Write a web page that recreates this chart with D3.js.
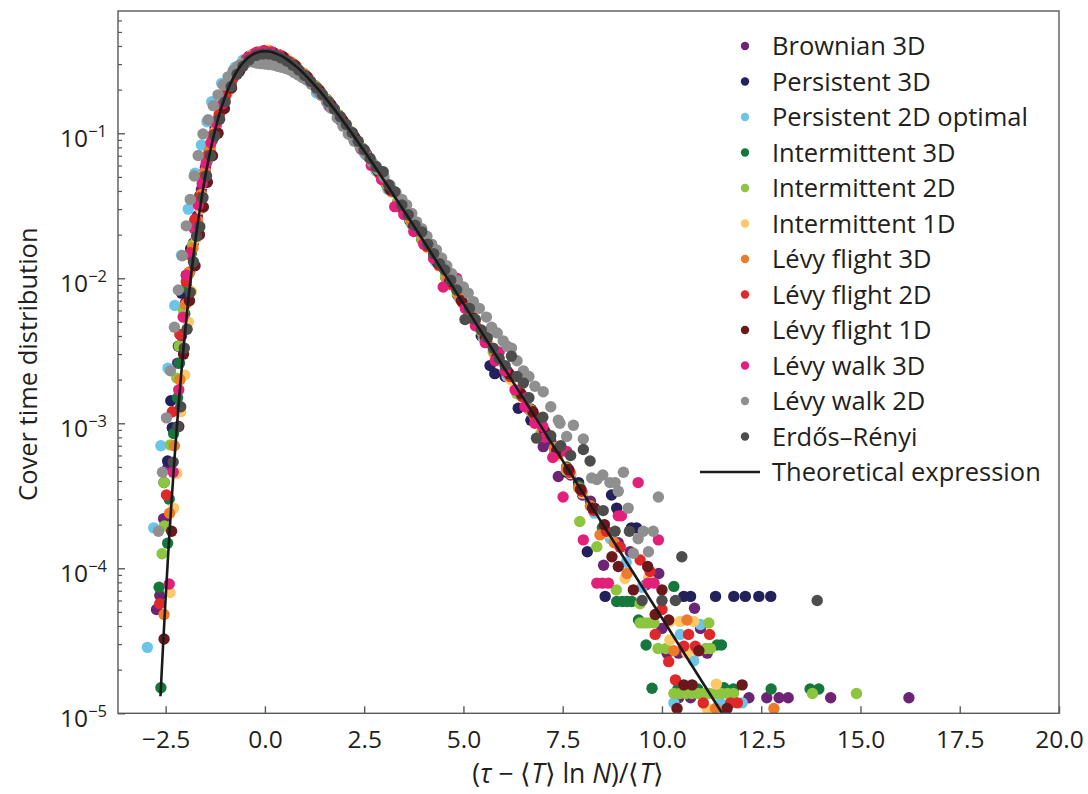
<!DOCTYPE html>
<html><head><meta charset="utf-8">
<script src="https://cdn.jsdelivr.net/npm/d3@7"></script>
<style>
body{margin:0;background:#fff;}
svg text{font-family:"Open Sans",sans-serif;fill:#231f20;}
</style></head><body>
<svg id="chart" width="1088" height="794"></svg>
<script>
// ---------------- DATA ----------------
const seriesNames = ["Brownian 3D","Persistent 3D","Persistent 2D optimal","Intermittent 3D","Intermittent 2D","Intermittent 1D","Lévy flight 3D","Lévy flight 2D","Lévy flight 1D","Lévy walk 3D","Lévy walk 2D","Erdős–Rényi"];
const lineName = "Theoretical expression";
const xTickValues = [-2.5,0,2.5,5,7.5,10,12.5,15,17.5,20];
const yTickExponents = [-5,-4,-3,-2,-1];
const xLabelParts = [["(",false],["τ",true],[" − ⟨",false],["T",true],["⟩ ln ",false],["N",true],[")/⟨",false],["T",true],["⟩",false]];
const yLabel = "Cover time distribution";

const brownian3D = [[-2.73,5.2e-5],[-2.645,6.5e-5],[-2.55,2.2e-4],[-2.45,4.9e-4],[-2.33,9.3e-4],[-2.2,2.6e-3],[-2.1,4.0e-3],[-2.0,6.8e-3],[-1.9,1.1e-2],[-1.8,1.75e-2],[-1.7,2.7e-2],[-1.6,4.1e-2],[-1.5,5.8e-2],[-1.38,8.2e-2],[-1.25,0.11],[-1.1,0.155],[-0.95,0.2],[-0.8,0.245],[-0.6,0.3],[-0.4,0.34],[-0.2,0.362],[0.0,0.372],[0.25,0.355],[0.5,0.33],[0.75,0.293],[1.0,0.252],[1.3,0.205],[1.6,0.163],[1.9,0.128],[2.2,0.098],[2.5,0.075],[2.8,0.057],[3.1,0.043],[3.4,0.032],[3.7,0.0245],[4.0,0.018],[4.3,0.0133],[4.6,0.0099],[4.9,0.0074],[5.2,0.0055],[5.5,0.0041],[5.8,0.003],[6.1,0.0022],[6.4,0.0016],[6.7,0.00125],[7.01,6.9e-4],[7.2,7.5e-4],[7.39,4.3e-4],[7.7,4.4e-4],[8.0,3.2e-4],[8.2,2.9e-4],[8.53,1.05e-4],[8.9,1.5e-4],[9.2,1.3e-4],[9.6,7.7e-5],[9.92,9.2e-5],[10.0,3.85e-5],[10.82,5.3e-5],[10.97,3.85e-5],[10.13,2.6e-5],[10.42,2.6e-5],[11.14,2.6e-5],[10.42,1.28e-5],[10.72,1.28e-5],[12.19,1.28e-5],[12.64,1.28e-5],[12.95,1.28e-5],[13.18,1.28e-5],[14.25,1.28e-5],[16.22,1.28e-5]];
const persistent3D = [[-2.54,3.9e-4],[-2.45,5.5e-4],[-2.37,1.43e-3],[-2.33,9.3e-4],[-2.18,3.4e-3],[-2.1,7.9e-3],[-1.98,1.05e-2],[-1.87,1.6e-2],[-1.76,2.5e-2],[-1.64,3.7e-2],[-1.52,5.4e-2],[-1.4,7.6e-2],[-1.25,0.106],[-1.1,0.148],[-0.9,0.205],[-0.7,0.265],[-0.5,0.315],[-0.3,0.35],[-0.1,0.366],[0.1,0.364],[0.35,0.348],[0.65,0.31],[0.95,0.26],[1.25,0.214],[1.55,0.172],[1.85,0.134],[2.15,0.103],[2.45,0.079],[2.75,0.06],[3.05,0.045],[3.35,0.0335],[3.65,0.025],[3.95,0.0186],[4.25,0.0139],[4.55,0.0102],[4.85,0.0077],[5.15,0.0056],[5.45,0.004],[5.67,2.5e-3],[5.79,2.2e-3],[6.05,2.1e-3],[6.38,1.27e-3],[6.7,1.05e-3],[7.0,8.4e-4],[7.3,6.2e-4],[7.6,4.6e-4],[7.9,3.9e-4],[8.12,1.3e-4],[8.3,2.6e-4],[8.73,3.2e-4],[8.86,2.6e-4],[9.23,1.9e-4],[9.36,1.9e-4],[8.57,6.4e-5],[10.55,6.4e-5],[10.72,6.4e-5],[11.35,6.4e-5],[11.81,6.4e-5],[12.1,6.4e-5],[12.44,6.4e-5],[12.74,6.4e-5]];
const persistent2DOptimal = [[-2.96,2.85e-5],[-2.8,1.9e-4],[-2.62,7.0e-4],[-2.44,2.4e-3],[-2.27,6.5e-3],[-2.1,1.44e-2],[-1.93,3.0e-2],[-1.76,5.3e-2],[-1.6,8.3e-2],[-1.46,0.12],[-1.34,0.165],[-1.09,0.221],[-0.93,0.245],[-0.75,0.285],[-0.55,0.32],[-0.35,0.345],[-0.15,0.36],[0.05,0.365],[0.3,0.345],[0.6,0.305],[0.9,0.255],[1.3,0.19],[1.6,0.155],[1.9,0.122],[2.2,0.095],[2.5,0.073],[2.8,0.055],[3.1,0.041],[3.4,0.031],[3.7,0.0235],[4.0,0.0175],[4.3,0.013],[4.6,0.0097],[4.9,0.0073],[5.2,0.0053],[5.5,0.0039],[5.8,0.0029],[6.1,0.0021],[6.4,0.0016],[6.7,0.0012],[7.0,8.6e-4],[7.3,6.4e-4],[7.6,4.8e-4],[7.95,3.6e-4],[8.3,2.4e-4],[8.7,1.6e-4],[9.1,1.1e-4],[9.5,7.4e-5],[10.97,4.1e-5],[10.46,3.5e-5],[10.8,2.3e-5],[10.3,1.18e-5],[11.47,1.18e-5],[12.02,1.18e-5]];
const intermittent3D = [[-2.665,7.4e-5],[-2.62,1.5e-5],[-2.45,1.49e-4],[-2.41,3.0e-4],[-2.3,8.5e-4],[-2.2,1.5e-3],[-2.15,2.6e-3],[-2.02,5.7e-3],[-1.97,8.7e-3],[-1.85,1.5e-2],[-1.75,2.2e-2],[-1.65,3.3e-2],[-1.55,4.7e-2],[-1.45,6.5e-2],[-1.32,9.0e-2],[-1.18,0.125],[-1.02,0.172],[-0.85,0.222],[-0.65,0.28],[-0.45,0.325],[-0.25,0.355],[-0.05,0.367],[0.2,0.36],[0.45,0.336],[0.7,0.302],[1.0,0.254],[1.3,0.207],[1.6,0.165],[1.9,0.129],[2.2,0.099],[2.5,0.076],[2.8,0.0575],[3.1,0.043],[3.4,0.0325],[3.7,0.024],[4.0,0.018],[4.3,0.0135],[4.6,0.0101],[4.9,0.0075],[5.2,0.0056],[5.5,0.0041],[5.8,0.0031],[6.1,0.0023],[6.4,0.00168],[6.7,0.00125],[7.0,9.2e-4],[7.3,6.8e-4],[7.6,5.0e-4],[7.9,3.7e-4],[8.2,2.7e-4],[8.5,1.9e-4],[8.86,5.9e-5],[9.0,5.9e-5],[9.12,5.9e-5],[9.24,5.9e-5],[10.3,7.5e-5],[9.41,4.4e-5],[9.6,2.96e-5],[11.39,2.96e-5],[11.5,2.96e-5],[9.75,1.49e-5],[10.4,1.47e-5],[10.9,1.47e-5],[11.56,1.5e-5],[11.8,1.47e-5],[12.75,1.47e-5],[13.73,1.47e-5],[13.95,1.47e-5]];
const intermittent2D = [[-2.59,1.26e-4],[-2.53,1.96e-4],[-2.54,3.9e-4],[-2.38,7.1e-4],[-2.22,2.05e-3],[-2.16,3.4e-3],[-2.05,6.0e-3],[-1.93,1.05e-2],[-1.82,1.7e-2],[-1.72,2.5e-2],[-1.61,3.7e-2],[-1.5,5.3e-2],[-1.38,7.6e-2],[-1.22,0.113],[-1.05,0.162],[-0.88,0.213],[-0.68,0.272],[-0.48,0.322],[-0.28,0.353],[-0.08,0.366],[0.15,0.363],[0.4,0.342],[0.65,0.31],[0.95,0.262],[1.25,0.214],[1.55,0.171],[1.85,0.134],[2.15,0.103],[2.45,0.079],[2.75,0.0595],[3.05,0.0452],[3.35,0.034],[3.65,0.0254],[3.95,0.0188],[4.25,0.014],[4.55,0.0103],[4.85,0.0078],[5.15,0.0057],[5.45,0.0043],[5.75,0.0031],[6.05,0.0023],[6.35,0.0016],[6.65,0.00125],[6.95,8.5e-4],[7.3,6.8e-4],[7.6,4.7e-4],[7.93,2.1e-4],[8.36,1.41e-4],[8.85,7.1e-5],[9.45,5.7e-5],[9.45,4.2e-5],[9.55,4.2e-5],[9.65,4.2e-5],[9.8,4.2e-5],[11.18,4.2e-5],[9.9,2.8e-5],[10.1,2.8e-5],[11.1,2.8e-5],[11.22,2.8e-5],[10.3,1.37e-5],[10.45,1.37e-5],[10.6,1.37e-5],[10.75,1.37e-5],[10.9,1.37e-5],[11.05,1.37e-5],[11.2,1.37e-5],[11.35,1.37e-5],[11.5,1.37e-5],[11.65,1.37e-5],[11.8,1.37e-5],[13.79,1.37e-5],[14.9,1.37e-5]];
const intermittent1D = [[-2.39,6.8e-5],[-2.3,2.6e-4],[-2.22,4.5e-4],[-2.12,1.2e-3],[-2.02,2.15e-3],[-1.93,5.0e-3],[-1.85,8.1e-3],[-1.72,1.9e-2],[-1.62,3.0e-2],[-1.52,4.5e-2],[-1.4,6.8e-2],[-1.25,0.103],[-1.1,0.142],[-0.92,0.195],[-0.72,0.255],[-0.52,0.308],[-0.32,0.345],[-0.12,0.364],[0.08,0.375],[0.3,0.352],[0.55,0.326],[0.8,0.288],[1.1,0.238],[1.4,0.194],[1.7,0.152],[2.0,0.119],[2.3,0.09],[2.6,0.069],[2.9,0.052],[3.2,0.039],[3.5,0.0293],[3.8,0.0218],[4.1,0.0162],[4.4,0.0121],[4.7,0.009],[5.0,0.0067],[5.3,0.005],[5.6,0.0037],[5.9,0.0027],[6.2,0.002],[6.5,0.0015],[6.8,0.0011],[7.1,8.2e-4],[7.4,6.0e-4],[7.7,4.5e-4],[8.0,3.3e-4],[8.3,2.5e-4],[8.65,1.75e-4],[9.07,8.5e-5],[9.66,8.5e-5],[10.2,4.3e-5],[10.46,4.3e-5],[10.8,4.3e-5],[10.2,3.2e-5],[10.63,2.6e-5],[11.37,1.59e-5],[11.14,1.08e-5]];
const levyFlight3D = [[-2.54,4.8e-5],[-2.4,2.4e-4],[-2.28,7.0e-4],[-2.14,2.0e-3],[-2.0,6.6e-3],[-1.9,1.1e-2],[-1.81,1.61e-2],[-1.7,2.5e-2],[-1.6,3.8e-2],[-1.5,5.5e-2],[-1.38,7.8e-2],[-1.22,0.115],[-1.05,0.163],[-0.88,0.213],[-0.66,0.278],[-0.45,0.327],[-0.25,0.356],[-0.05,0.368],[0.15,0.368],[0.4,0.345],[0.7,0.303],[1.0,0.256],[1.3,0.208],[1.6,0.166],[1.9,0.13],[2.2,0.1],[2.5,0.076],[2.8,0.058],[3.1,0.0435],[3.4,0.0325],[3.7,0.0243],[4.0,0.0181],[4.3,0.0135],[4.6,0.01],[4.9,0.0074],[5.2,0.0055],[5.5,0.0041],[5.8,0.003],[6.1,0.0022],[6.4,0.0017],[6.7,0.00123],[7.0,9.0e-4],[7.3,6.7e-4],[7.6,4.9e-4],[7.9,3.6e-4],[8.2,2.7e-4],[8.44,1.7e-4],[8.8,1.5e-4],[9.12,9.2e-5],[10.63,4.4e-5],[10.3,2.7e-5],[10.9,2.7e-5],[11.35,1.08e-5],[12.82,1.08e-5]];
const levyFlight2D = [[-2.65,5.7e-5],[-2.48,3.2e-4],[-2.33,1.2e-3],[-2.14,4.1e-3],[-1.98,9.5e-3],[-1.88,1.5e-2],[-1.76,2.55e-2],[-1.65,3.6e-2],[-1.55,5.0e-2],[-1.44,7.0e-2],[-1.3,9.8e-2],[-1.15,0.135],[-0.98,0.183],[-0.8,0.24],[-0.6,0.295],[-0.4,0.335],[-0.2,0.36],[0.0,0.368],[0.22,0.358],[0.48,0.333],[0.78,0.29],[1.08,0.242],[1.38,0.196],[1.68,0.155],[1.98,0.12],[2.28,0.092],[2.58,0.07],[2.88,0.053],[3.18,0.04],[3.48,0.0298],[3.78,0.0222],[4.08,0.0166],[4.38,0.0123],[4.68,0.0091],[4.98,0.0068],[5.28,0.0051],[5.58,0.0037],[5.88,0.0028],[6.18,0.0021],[6.48,0.00153],[6.78,0.00114],[7.08,8.4e-4],[7.38,6.2e-4],[7.68,4.6e-4],[7.98,3.4e-4],[8.28,2.5e-4],[8.6,1.8e-4],[8.95,1.4e-4],[9.45,1.14e-4],[9.7,9.5e-5],[10.0,5.2e-5],[9.83,3.5e-5],[10.67,3.5e-5],[11.2,3.5e-5],[10.55,2.9e-5],[10.84,2.9e-5],[10.17,2.27e-5],[10.34,1.7e-5],[11.04,1.18e-5],[11.73,1.18e-5],[11.9,1.18e-5]];
const levyFlight1D = [[-2.54,3.25e-5],[-2.35,1.8e-4],[-2.17,9.5e-4],[-2.05,3.0e-3],[-1.9,7.0e-3],[-1.76,1.22e-2],[-1.65,2.0e-2],[-1.55,3.1e-2],[-1.45,4.6e-2],[-1.32,7.0e-2],[-1.18,0.1],[-1.02,0.148],[-0.84,0.205],[-0.64,0.268],[-0.42,0.322],[-0.22,0.355],[-0.02,0.368],[0.2,0.36],[0.45,0.337],[0.75,0.295],[1.05,0.247],[1.35,0.2],[1.65,0.159],[1.95,0.124],[2.25,0.095],[2.55,0.0725],[2.85,0.055],[3.15,0.041],[3.45,0.031],[3.75,0.023],[4.05,0.0172],[4.35,0.0128],[4.65,0.0095],[4.95,0.007],[5.25,0.0053],[5.55,0.0039],[5.85,0.0029],[6.15,0.0022],[6.45,0.0016],[6.75,0.0012],[7.05,8.8e-4],[7.35,6.5e-4],[7.65,4.8e-4],[7.95,3.5e-4],[8.25,2.6e-4],[8.55,2.0e-4],[8.74,1.2e-4],[8.9,1.03e-4],[9.64,1.03e-4],[9.28,7.1e-5],[10.0,7.1e-5],[9.83,4.8e-5],[10.17,4.4e-5],[10.93,2.7e-5],[10.55,1.57e-5],[10.76,1.57e-5],[12.02,1.57e-5],[10.38,1.08e-5],[11.64,1.08e-5]];
const levyWalk3D = [[-2.41,7.8e-5],[-2.31,4.6e-4],[-2.17,1.7e-3],[-2.06,5.4e-3],[-1.97,1.05e-2],[-1.88,1.45e-2],[-1.78,2.2e-2],[-1.68,3.2e-2],[-1.58,4.5e-2],[-1.48,6.2e-2],[-1.36,8.6e-2],[-1.22,0.118],[-1.06,0.16],[-0.88,0.212],[-0.68,0.272],[-0.46,0.326],[-0.24,0.356],[-0.04,0.368],[0.16,0.364],[0.36,0.345],[0.6,0.313],[0.86,0.27],[1.12,0.23],[1.38,0.19],[1.64,0.152],[1.9,0.124],[2.16,0.098],[2.42,0.078],[2.68,0.06],[2.94,0.048],[3.27,0.0312],[3.5,0.0275],[3.75,0.021],[4.0,0.0172],[4.25,0.0137],[4.49,8.7e-3],[4.83,0.01],[5.05,0.0062],[5.3,0.0047],[5.55,0.0036],[5.8,0.0027],[5.9,3.1e-3],[6.05,0.0023],[6.3,0.0017],[6.55,0.0013],[6.6,1.5e-3],[6.8,0.001],[7.0,9.5e-4],[7.05,8.0e-4],[7.25,5.8e-4],[7.51,3.1e-4],[7.6,6.4e-4],[8.02,1.57e-4],[8.9,2.3e-4],[8.98,2.3e-4],[9.4,3.9e-4],[9.91,1.57e-4],[8.36,7.9e-5],[8.5,7.9e-5],[8.65,7.9e-5],[9.65,7.9e-5],[9.8,7.9e-5]];
const levyWalk2D = [[-2.68,1.8e-4],[-2.58,4.6e-4],[-2.48,1.09e-3],[-2.38,2.3e-3],[-2.28,4.6e-3],[-2.18,8.3e-3],[-2.08,1.43e-2],[-1.98,2.3e-2],[-1.88,3.5e-2],[-1.78,5.07e-2],[-1.68,7.03e-2],[-1.56,9.9e-2],[-1.43,0.124],[-1.3,0.155],[-1.18,0.184],[-1.05,0.215],[-0.92,0.245],[-0.8,0.27],[-0.68,0.29],[-0.55,0.303],[-0.42,0.31],[-0.3,0.31],[-0.2,0.305],[-0.1,0.302],[0.0,0.3],[0.1,0.298],[0.21,0.296],[0.32,0.29],[0.42,0.285],[0.53,0.28],[0.63,0.273],[0.74,0.262],[0.84,0.252],[0.95,0.242],[1.05,0.233],[1.17,0.218],[1.3,0.2],[1.42,0.182],[1.55,0.165],[1.68,0.148],[1.82,0.128],[1.97,0.112],[2.1,0.099],[2.25,0.088],[2.4,0.08],[2.55,0.071],[2.7,0.063],[2.85,0.056],[3.0,0.05],[3.15,0.044],[3.3,0.039],[3.45,0.035],[3.57,0.032],[3.7,0.028],[3.82,0.0245],[3.95,0.022],[4.08,0.0195],[4.2,0.0172],[4.32,0.0157],[4.45,0.0138],[4.58,0.0122],[4.7,0.0108],[4.85,0.0096],[5.0,0.0087],[5.12,0.0079],[5.25,0.0069],[5.4,0.0062],[5.58,0.0054],[5.71,0.0046],[5.85,0.0042],[6.0,0.0037],[6.1,0.0034],[6.21,0.0033],[6.35,0.0027],[6.51,0.0023],[6.65,0.0021],[6.8,0.0018],[7.01,0.00165],[7.2,0.0013],[7.39,0.00105],[7.43,1.0e-3],[7.6,8.1e-4],[7.77,9.7e-4],[8.02,7.8e-4],[8.23,4.2e-4],[8.36,4.1e-4],[8.51,4.4e-4],[8.69,3.9e-4],[8.82,3.9e-4],[8.9,3.4e-4],[9.03,4.6e-4],[9.15,2.6e-4],[9.28,1.27e-4],[9.4,1.6e-4],[9.53,1.8e-4],[9.66,1.3e-4],[9.78,1.8e-4],[9.91,3.1e-4]];
const erdosRenyi = [[-2.31,5.4e-4],[-2.19,9.5e-4],[-2.12,1.3e-3],[-2.03,3.3e-3],[-1.96,4.45e-3],[-1.88,8.0e-3],[-1.8,1.3e-2],[-1.72,1.95e-2],[-1.64,2.27e-2],[-1.56,3.6e-2],[-1.47,5.1e-2],[-1.37,7.0e-2],[-1.26,9.6e-2],[-1.14,0.125],[-1.0,0.165],[-0.85,0.21],[-0.7,0.255],[-0.55,0.29],[-0.4,0.32],[-0.21,0.345],[-0.05,0.352],[0.1,0.352],[0.25,0.345],[0.4,0.332],[0.55,0.315],[0.7,0.295],[0.85,0.273],[1.0,0.25],[1.15,0.228],[1.3,0.205],[1.45,0.185],[1.6,0.165],[1.75,0.147],[1.9,0.13],[2.05,0.115],[2.2,0.101],[2.35,0.088],[2.5,0.077],[2.65,0.067],[2.8,0.059],[2.98,0.0543],[3.12,0.044],[3.27,0.0395],[3.45,0.032],[3.61,0.0274],[3.78,0.0232],[3.95,0.0209],[4.1,0.0172],[4.25,0.0148],[4.4,0.0126],[4.53,0.0114],[4.68,0.0097],[4.83,0.0083],[5.04,0.0052],[5.15,0.0062],[5.3,0.0052],[5.45,0.0044],[5.6,0.0039],[5.75,0.0033],[5.9,0.0028],[6.05,0.0025],[6.21,0.0029],[6.35,0.0021],[6.51,0.0019],[6.65,0.0015],[6.84,7.9e-4],[7.0,0.0011],[7.2,8.2e-4],[7.45,7.0e-4],[7.7,6.0e-4],[8.02,6.6e-4],[8.19,5.5e-4],[8.52,2.5e-4],[8.82,1.8e-4],[9.18,1.8e-4],[9.5,6.0e-5],[10.0,6.0e-5],[10.34,6.0e-5],[10.5,1.2e-4],[13.91,6.0e-5]];

const theoryX = [-2.63,-2.6,-2.55,-2.5,-2.45,-2.4,-2.35,-2.3,-2.25,-2.2,-2.15,-2.1,-2.05,-2.0,-1.95,-1.9,-1.85,-1.8,-1.75,-1.7,-1.65,-1.6,-1.55,-1.5,-1.45,-1.4,-1.3,-1.2,-1.1,-1.0,-0.9,-0.8,-0.7,-0.6,-0.5,-0.4,-0.3,-0.2,-0.1,0,0.1,0.2,0.3,0.4,0.5,0.6,0.7,0.8,0.9,1.0,1.2,1.4,1.6,1.8,2.0,2.4,2.8,3.2,3.6,4.0,5.0,6.0,7.0,8.0,9.0,10.0,11.0,11.6];
const theoryY = [1.31e-5,1.91e-5,3.51e-5,6.24e-5,1.08e-4,1.80e-4,2.92e-4,4.65e-4,7.20e-4,1.087e-3,1.61e-3,2.32e-3,3.29e-3,4.57e-3,6.22e-3,8.35e-3,1.10e-2,1.43e-2,1.82e-2,2.30e-2,2.85e-2,3.50e-2,4.24e-2,5.07e-2,6.00e-2,7.03e-2,9.36e-2,0.120,0.149,0.179,0.210,0.240,0.269,0.295,0.317,0.336,0.350,0.360,0.366,0.368,0.366,0.361,0.353,0.343,0.331,0.317,0.302,0.287,0.271,0.255,0.223,0.193,0.165,0.140,0.118,0.0828,0.0572,0.0391,0.0266,0.0180,6.69e-3,2.47e-3,9.11e-4,3.35e-4,1.23e-4,4.54e-5,1.67e-5,9.2e-6];

const seriesData = [brownian3D,persistent3D,persistent2DOptimal,intermittent3D,intermittent2D,intermittent1D,levyFlight3D,levyFlight2D,levyFlight1D,levyWalk3D,levyWalk2D,erdosRenyi];
const seriesColors = ["#6e2474","#22215c","#6cc4e8","#16773c","#8dc53f","#fcc868","#ec7b2c","#e0282a","#6a181b","#e2207a","#8f8f8f","#4d4d4d"];

// ---------------- CHART ----------------
const svg = d3.select("#chart");
const plotL = 118, plotR = 1059, plotT = 11, plotB = 713.3;
const x = d3.scaleLinear().domain([-3.7, 20]).range([plotL, plotR]);
const y = d3.scaleLog().domain([1e-5, 0.697]).range([plotB, plotT]);
const axisColor = "#58595b";

svg.append("defs").append("clipPath").attr("id","clip")
  .append("rect").attr("x",plotL).attr("y",plotT).attr("width",plotR-plotL).attr("height",plotB-plotT);

// points
const plot = svg.append("g").attr("clip-path","url(#clip)");
seriesData.forEach((data,i)=>{
  plot.append("g").selectAll("circle").data(data).join("circle")
    .attr("cx",d=>x(d[0])).attr("cy",d=>y(d[1])).attr("r",5.7)
    .attr("fill",seriesColors[i]);
});
// theory line
const theory = theoryX.map((v,i)=>[v,theoryY[i]]);
plot.append("path").datum(theory)
  .attr("d", d3.line().x(d=>x(d[0])).y(d=>y(d[1])).curve(d3.curveCatmullRom))
  .attr("fill","none").attr("stroke","#1a1a1a").attr("stroke-width",2.6);

// frame
svg.append("rect").attr("x",plotL).attr("y",plotT).attr("width",plotR-plotL).attr("height",plotB-plotT)
  .attr("fill","none").attr("stroke",axisColor).attr("stroke-width",1.4);

// x axis
const fmtX = d => (d<0?"\u2212":"") + Math.abs(d).toFixed(1);
const gx = svg.append("g").attr("transform",`translate(0,${plotB})`)
  .call(d3.axisBottom(x).tickValues(xTickValues).tickSize(-7).tickPadding(17).tickFormat(fmtX));
gx.select(".domain").remove();
gx.selectAll(".tick line").attr("stroke",axisColor).attr("stroke-width",1.4);
gx.selectAll(".tick text").attr("font-size",24.5).attr("font-family","Open Sans").attr("fill","#231f20");

// y axis major
const yMajor = yTickExponents.map(e=>Math.pow(10,e));
const yMinor = [];
yTickExponents.forEach(e=>{ for(let m=2;m<=9;m++){ const v=m*Math.pow(10,e); if(v<=y.domain()[1]) yMinor.push(v);} });
const gy = svg.append("g").attr("transform",`translate(${plotL},0)`)
  .call(d3.axisLeft(y).tickValues(yMajor).tickSize(-7).tickFormat(""));
gy.select(".domain").remove();
gy.selectAll(".tick line").attr("stroke",axisColor).attr("stroke-width",1.4);
const gy2 = svg.append("g").attr("transform",`translate(${plotL},0)`)
  .call(d3.axisLeft(y).tickValues(yMinor).tickSize(-4).tickFormat(""));
gy2.select(".domain").remove();
gy2.selectAll(".tick line").attr("stroke",axisColor).attr("stroke-width",1.2);

const ylab = svg.append("g").selectAll("text").data(yTickExponents).join("text")
  .attr("x",107).attr("y",e=>y(Math.pow(10,e))+13.5).attr("text-anchor","end").attr("font-size",24.5);
ylab.append("tspan").text("10");
ylab.append("tspan").attr("dy",-10).attr("font-size",16.5).text(e=>"\u2212"+Math.abs(e));

// axis labels
const xl = svg.append("text").attr("x",568).attr("y",783).attr("text-anchor","middle").attr("font-size",26.5);
xLabelParts.forEach(p=>{ xl.append("tspan").attr("font-style",p[1]?"italic":"normal").text(p[0]); });
svg.append("text").attr("transform",`translate(37,${(plotT+plotB)/2+2}) rotate(-90)`)
  .attr("text-anchor","middle").attr("font-size",25.5).text(yLabel);

// legend
const legX = 745, legText = 772, legY0 = 46, legDy = 35.5;
const leg = svg.append("g");
seriesNames.forEach((n,i)=>{
  leg.append("circle").attr("cx",legX).attr("cy",legY0+i*legDy).attr("r",4.2).attr("fill",seriesColors[i]);
  leg.append("text").attr("x",legText).attr("y",legY0+i*legDy+9).attr("font-size",25.5).text(n);
});
const ly = legY0 + seriesNames.length*legDy;
leg.append("line").attr("x1",700).attr("x2",760).attr("y1",ly).attr("y2",ly).attr("stroke","#1a1a1a").attr("stroke-width",2.6);
leg.append("text").attr("x",legText).attr("y",ly+9).attr("font-size",25.5).text(lineName);
</script>
</body></html>
